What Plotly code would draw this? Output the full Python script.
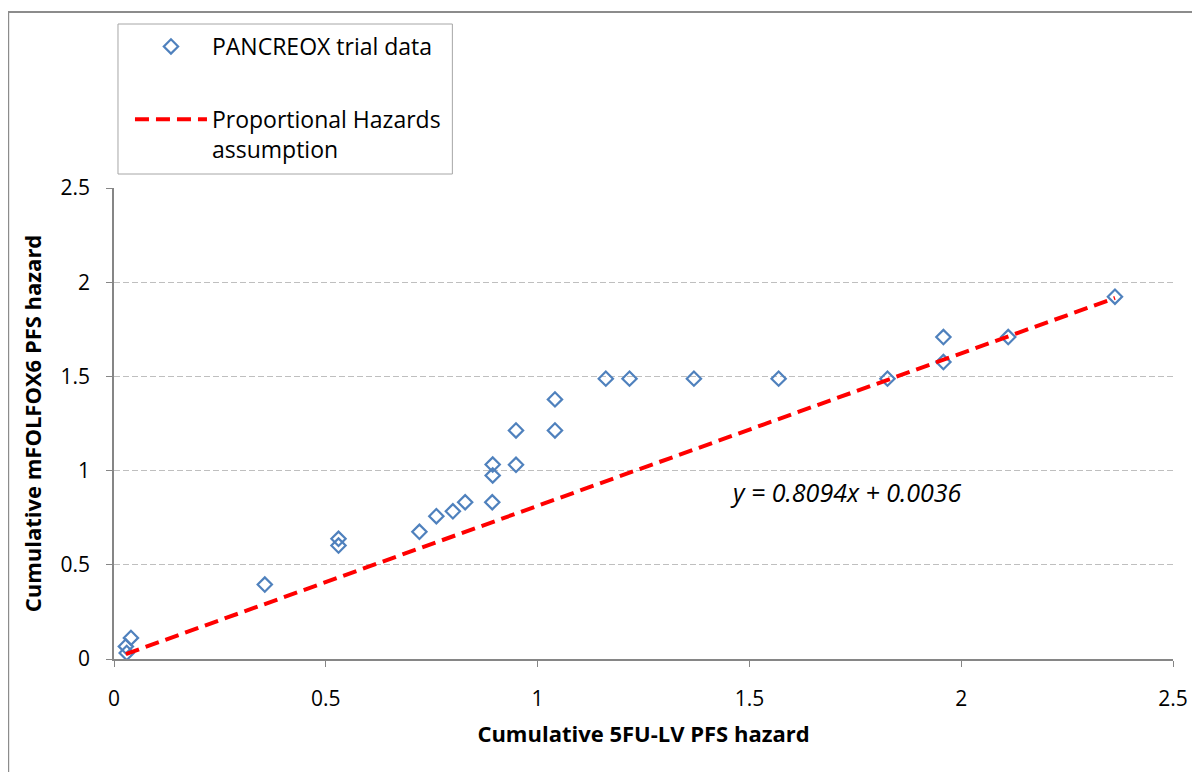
import plotly.graph_objects as go

# Data
x_5fulv = [0.030, 0.028, 0.040, 0.356, 0.530, 0.530, 0.721, 0.761, 0.800, 0.829,
           0.893, 0.894, 0.894, 0.949, 0.949, 1.041, 1.041, 1.161, 1.217, 1.369,
           1.569, 1.826, 1.958, 1.958, 2.111, 2.363]
y_mfolfox6 = [0.032, 0.067, 0.112, 0.395, 0.638, 0.602, 0.675, 0.758, 0.784, 0.832,
              0.832, 1.032, 0.974, 1.213, 1.031, 1.378, 1.213, 1.488, 1.488, 1.488,
              1.488, 1.488, 1.709, 1.576, 1.709, 1.923]

slope = 0.8094
intercept = 0.0036
fit_x = [min(x_5fulv), max(x_5fulv)]
fit_y = [slope * v + intercept for v in fit_x]

tick_vals = [0, 0.5, 1, 1.5, 2, 2.5]
tick_text = ["0", "0.5", "1", "1.5", "2", "2.5"]

FONT = "Open Sans"
AXIS_COL = "#868686"

# figure is drawn with an 8px page margin; work in figure pixel coords
W, H = 1192, 764
L, R, T, B = 106, 25, 180, 113
PW = W - L - R
PH = H - T - B


def px(xf):
    return (xf - L) / PW


def py(yf):
    return (H - B - yf) / PH


fig = go.Figure()
fig.add_trace(go.Scatter(
    x=x_5fulv, y=y_mfolfox6, mode="markers", name="PANCREOX trial data",
    legendgroup="a",
    marker=dict(symbol="diamond-open", size=11, color="#4F81BD",
                line=dict(width=2.2, color="#4F81BD")),
))
fig.add_trace(go.Scatter(
    x=fit_x, y=fit_y, mode="lines", name="Proportional Hazards<br>assumption",
    legendgroup="b",
    line=dict(color="#FF0000", width=4, dash="14px,7px"),
))

fig.add_annotation(
    x=1.729, y=0.884, xref="x", yref="y", showarrow=False,
    text="<i>y = 0.8094x + 0.0036</i>", font=dict(family=FONT, size=25, color="#000000"),
)

# outer chart border
fig.add_shape(type="rect", xref="paper", yref="paper",
              x0=px(0), x1=px(1230), y0=py(800), y1=py(4),
              line=dict(color="#8C8C8C", width=2), fillcolor="rgba(0,0,0,0)", layer="below")
# legend box
fig.add_shape(type="rect", xref="paper", yref="paper",
              x0=px(110), x1=px(445), y0=py(166), y1=py(16),
              line=dict(color="#A6A6A6", width=1), fillcolor="white")

axis_common = dict(
    showline=True, linecolor=AXIS_COL, linewidth=1.5,
    ticks="outside", ticklen=6, tickcolor=AXIS_COL,
    tickvals=tick_vals, ticktext=tick_text, zeroline=False,
    tickfont=dict(family=FONT, size=21, color="#000000"),
    range=[0, 2.5],
)

fig.update_layout(
    width=W, height=H,
    paper_bgcolor="white", plot_bgcolor="white",
    margin=dict(l=L, r=R, t=T, b=B),
    font=dict(family=FONT, color="#000000"),
    xaxis=dict(**axis_common, showgrid=False,
               ticklabelstandoff=14,
               title=dict(text="<b>Cumulative 5FU-LV PFS hazard</b>", standoff=16,
                          font=dict(family=FONT, size=22, color="#000000"))),
    yaxis=dict(**axis_common, showgrid=True, gridcolor="#BFBFBF", griddash="6px,3px",
               gridwidth=1, ticklabelstandoff=12,
               title=dict(text="<b>Cumulative mFOLFOX6 PFS hazard</b>", standoff=13,
                          font=dict(family=FONT, size=22, color="#000000"))),
    legend=dict(x=px(122), y=py(17), xanchor="left", yanchor="top",
                bgcolor="rgba(0,0,0,0)", borderwidth=0,
                font=dict(family=FONT, size=23, color="#000000"),
                tracegroupgap=40, itemwidth=72, valign="top"),
    showlegend=True,
)

fig.write_html("out.html")
